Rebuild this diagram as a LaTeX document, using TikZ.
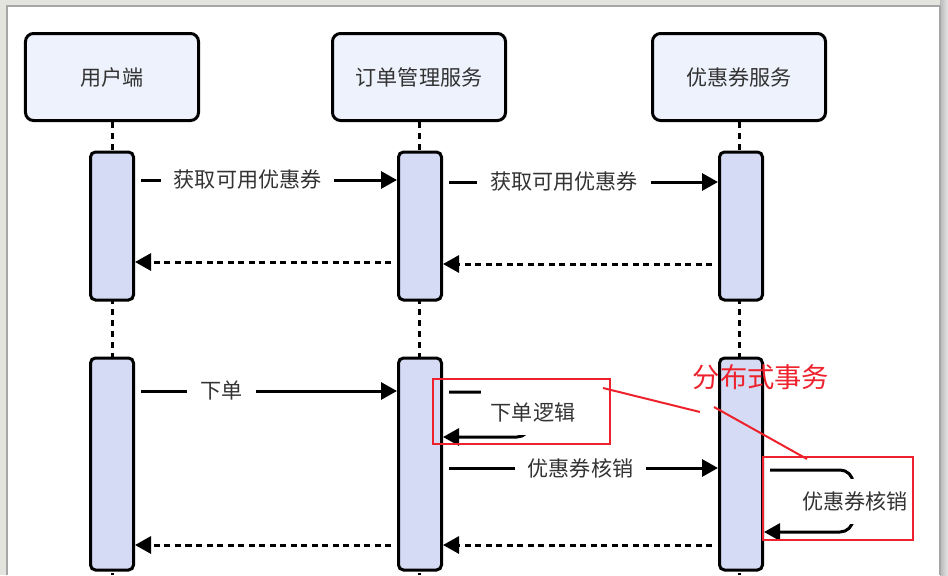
\documentclass[tikz,border=0pt]{standalone}
\usepackage{fontspec}
\setmainfont{Noto Sans CJK SC}
\usetikzlibrary{arrows.meta,positioning}
\definecolor{actfill}{RGB}{238,242,252}
\definecolor{barfill}{RGB}{213,219,245}
\definecolor{ink}{RGB}{51,51,51}
\definecolor{mark}{RGB}{238,34,44}
\definecolor{frame}{RGB}{228,228,222}

\begin{document}
\begin{tikzpicture}[x=0.2mm,y=-0.2mm,
  actor/.style={draw,line width=0.6mm,fill=actfill,rounded corners=1.6mm,minimum width=34.6mm,
                minimum height=17.4mm,font=\fontsize{12}{14}\selectfont,text=ink},
  bar/.style={draw,line width=0.6mm,fill=barfill,rounded corners=1mm,minimum width=8.6mm,inner sep=0pt},
  life/.style={line width=0.6mm,dash pattern=on 1.2mm off 1mm},
  a/.style={-{Triangle[length=3.2mm,width=3.4mm]},line width=0.6mm,shorten <=1.2mm},
  ret/.style={a,dash pattern=on 1.2mm off 0.9mm},
  lbl/.style={fill=white,text=ink,font=\fontsize{12}{14}\selectfont,inner xsep=2.6mm,inner ysep=1mm},
  selflbl/.style={lbl,inner xsep=1mm,minimum width=21mm,minimum height=9mm},
  hl/.style={draw=mark,line width=0.4mm}]
 \useasboundingbox (0,0) rectangle (948,575);
 % screenshot frame
 \fill[frame] (0,0) rectangle (948,575);
 \shade[left color=gray!55,right color=gray!20] (940,0) rectangle (948,575);
 \fill[white] (7,6) rectangle (940,575);
 \draw[gray!70,line width=0.3mm] (7,575) -- (7,6) -- (940,6) -- (940,575);
 % participants
 \node[actor] (user) at (112,77) {用户端};
 \node[actor] (order) at (419,77) {订单管理服务};
 \node[actor] (coupon) at (739,77) {优惠券服务};
 \foreach \n in {user,order,coupon} \draw[life] (\n.south) -- (\n.south |- 0,575);
 % activations
 \node[bar,minimum height=29.6mm] (u1) at (112,226) {};
 \node[bar,minimum height=29.6mm] (o1) at (420,226) {};
 \node[bar,minimum height=29.6mm] (c1) at (741,226) {};
 \node[bar,minimum height=42.4mm] (u2) at (112,464) {};
 \node[bar,minimum height=42.4mm] (o2) at (420,464) {};
 \node[bar,minimum height=42.4mm] (c2) at (741,464) {};
 % query coupons
 \draw[a] (u1.east |- 0,180) -- node[lbl,pos=0.43] {获取可用优惠券} (o1.west |- 0,180);
 \draw[a] (o1.east |- 0,182) -- node[lbl,pos=0.44] {获取可用优惠券} (c1.west |- 0,182);
 \draw[ret] (o1.west |- 0,262) -- (u1.east |- 0,262);
 \draw[ret] (c1.west |- 0,264) -- (o1.east |- 0,264);
 % place order
 \draw[a] (u2.east |- 0,391) -- node[lbl,pos=0.33] {下单} (o2.west |- 0,391);
 \draw[a,rounded corners=2.6mm] (o2.east |- 0,392) -- (530,392) -- (530,437) -- (o2.east |- 0,437);
 \node[selflbl] (logic) at (533,412.5) {下单逻辑};
 \draw[a] (o2.east |- 0,468) -- node[lbl,pos=0.5] {优惠券核销} (c2.west |- 0,468);
 \draw[a,rounded corners=2.6mm] (c2.east |- 0,470) -- (853,470) -- (853,532) -- (c2.east |- 0,532);
 \node[selflbl] (writeoff) at (855,501) {优惠券核销};
 \draw[ret] (c2.west |- 0,545) -- (o2.east |- 0,545);
 \draw[ret] (o2.west |- 0,545) -- (u2.east |- 0,545);
 % red annotation
 \node[hl,minimum width=35.4mm,minimum height=13mm] (tx1) at (521.5,411.5) {};
 \node[hl,minimum width=30mm,minimum height=16.6mm] (tx2) at (838,498.5) {};
 \node[text=mark,font=\fontsize{15.5}{18}\selectfont] (dist) at (761,377) {分布式事务};
 \coordinate (p1) at (603,388); \coordinate (p2) at (700,412);
 \coordinate (q1) at (714,407); \coordinate (q2) at (807,459);
 \draw[hl] (p1) -- (p2);
 \draw[hl] (q1) -- (q2);
\end{tikzpicture}
\end{document}
